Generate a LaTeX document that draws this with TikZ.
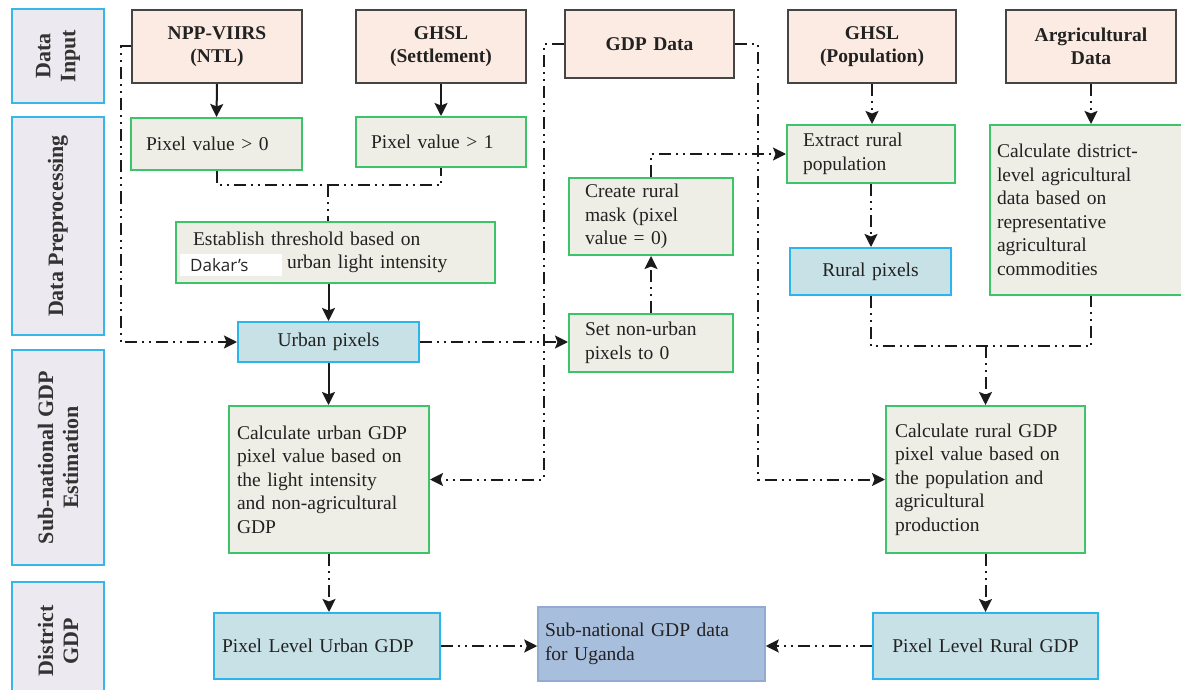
\documentclass[tikz,border=0pt]{standalone}
\usepackage{fontspec}
\setmainfont{Liberation Serif}
\newfontfamily\dakarfont{Open Sans}
\usetikzlibrary{arrows.meta}
\definecolor{lanefill}{HTML}{ECEAF0}
\definecolor{lanec}{HTML}{35B8E8}
\definecolor{lanetxt}{HTML}{333333}
\definecolor{infill}{HTML}{FCEBE2}
\definecolor{inbord}{HTML}{454545}
\definecolor{gfill}{HTML}{EEEEE6}
\definecolor{gbord}{HTML}{3CC46A}
\definecolor{bfill}{HTML}{C8E1E7}
\definecolor{bbord}{HTML}{2BB5EA}
\definecolor{sfill}{HTML}{A8BEDD}
\definecolor{sbord}{HTML}{93AAD2}
\definecolor{txt}{HTML}{222222}
\definecolor{linec}{HTML}{1A1A1A}
\newcommand\bx[8]{%
  \pgfmathsetmacro\bxcx{(#3+#5)/2}\pgfmathsetmacro\bxcy{(#4+#6)/2}%
  \pgfmathsetmacro\bxw{#5-#3}\pgfmathsetmacro\bxh{#6-#4}\pgfmathsetmacro\bxtw{#5-#3-2*#7}%
  \node[#1, inner xsep=#7pt, inner ysep=0pt, text width=\bxtw pt, minimum width=\bxw pt, minimum height=\bxh pt] (#2) at (\bxcx,\bxcy) {#8};}
\begin{document}
\begin{tikzpicture}[x=1pt,y=-1pt,
  lane/.style={draw=lanec, fill=lanefill, line width=2pt},
  lanetext/.style={rotate=90, align=center, font=\fontsize{22}{25}\selectfont\bfseries, text=lanetxt},
  inbox/.style={draw=inbord, fill=infill, line width=2.2pt, align=center, text=txt, font=\fontsize{19.5}{23.5}\selectfont\bfseries},
  gbox/.style={draw=gbord, fill=gfill, line width=2pt, align=left, text=txt, font=\fontsize{19.5}{23.5}\selectfont},
  bbox/.style={draw=bbord, fill=bfill, line width=2pt, align=center, text=txt, font=\fontsize{19.5}{23.5}\selectfont},
  sbox/.style={draw=sbord, fill=sfill, line width=1.5pt, align=left, text=txt, font=\fontsize{19.5}{23.5}\selectfont},
  con/.style={line width=2pt, draw=linec},
  dd/.style={con, dash pattern=on 12pt off 5pt on 2pt off 5pt on 2pt off 5pt},
  arr/.style={-{Stealth[length=13pt,width=13pt,inset=2.5pt]}}
]
\useasboundingbox (0,0) rectangle (1181,690);
% lanes
\bx{lane}{L1}{12}{9}{104}{103}{0}{}
\node[lanetext] (L1t) at (L1.center) {Data\\Input};
\bx{lane}{L2}{12}{117}{104}{335}{0}{}
\node[lanetext] (L2t) at (L2.center) {Data Preprocessing};
\bx{lane}{L3}{12}{350}{104}{565}{0}{}
\node[lanetext] (L3t) at (L3.center) {Sub-national GDP\\Estimation};
\bx{lane}{L4}{12}{582}{104}{700}{0}{}
\node[lanetext] (L4t) at (L4.center) {District\\GDP};
% inputs
\bx{inbox}{ntl}{132}{10}{302}{83}{4}{NPP-VIIRS\\(NTL)}
\bx{inbox}{ghs}{356}{10}{526}{83}{4}{GHSL\\(Settlement)}
\bx{inbox}{gdp}{565}{10}{734}{78}{4}{GDP Data}
\bx{inbox}{ghp}{788}{10}{956}{83}{4}{GHSL\\(Population)}
\bx{inbox}{agd}{1006}{10}{1176}{83}{4}{Argricultural\\Data}
% preprocessing
\bx{gbox}{p0}{131}{118}{302}{170}{15}{Pixel value > 0}
\bx{gbox}{p1}{356}{117}{526}{167}{15}{Pixel value > 1}
\bx{gbox}{est}{176}{222}{495}{283}{17}{Establish threshold based on\\\hspace*{94pt}urban light intensity}
\node[fill=white, inner xsep=10pt, inner ysep=0pt, text width=82pt, minimum height=22pt, align=left, anchor=west, text=black!85, font=\dakarfont\fontsize{17}{19}\selectfont] (dak) at (180,265) {Dakar’s};
\bx{gbox}{mask}{569}{178}{733}{255}{16}{Create rural\\mask (pixel\\value = 0)}
\bx{gbox}{ext}{787}{125}{955}{183}{16}{Extract rural\\population}
\bx{gbox}{agc}{990}{125}{1192}{295}{7}{Calculate district-\\level agricultural\\data based on\\representative\\agricultural\\commodities}
\bx{bbox}{rpx}{790}{248}{951}{295}{4}{Rural pixels}
\bx{bbox}{upx}{238}{322}{419}{362}{4}{Urban pixels}
\bx{gbox}{snu}{569}{314}{733}{372}{16}{Set non-urban\\pixels to 0}
% estimation
\bx{gbox}{cu}{229}{406}{429}{553}{8}{Calculate urban GDP\\pixel value based on\\the light intensity\\and non-agricultural\\GDP}
\bx{gbox}{cr}{886}{406}{1085}{553}{9}{Calculate rural GDP\\pixel value based on\\the population and\\agricultural\\production}
% district
\bx{bbox, align=left}{pu}{214}{613}{440}{679}{8}{Pixel Level Urban GDP}
\bx{sbox}{sn}{538}{607}{765}{681}{7}{Sub-national GDP data\\for Uganda}
\bx{bbox}{pr}{873}{613}{1098}{679}{4}{Pixel Level Rural GDP}
% connectors
\draw[con,arr] (ntl.south) -- (p0.north);
\draw[con,arr] (ghs.south) -- (p1.north);
\coordinate (j1) at (328,185);
\draw[dd] (p0.south) |- (j1) -| (p1.south);
\draw[dd] (j1) -- (j1 |- est.north);
\draw[con,arr] (upx.north |- est.south) -- (upx.north);
\draw[dd,arr] (ntl.west) -- ++(-10,0) |- (upx.west);
\draw[dd,arr] (upx.east) -- (upx.east -| snu.west);
\draw[dd,arr] (gdp.west) -- ++(-20,0) |- (cu.east);
\draw[dd,arr] (gdp.east) -- ++(23,0) |- (cr.west);
\draw[dd,arr] (snu.north) -- (mask.south);
\draw[dd,arr] (mask.north) |- (ext.west);
\draw[dd,arr] (ghp.south) -- (ghp.south |- ext.north);
\draw[dd,arr] (agd.south) -- (agd.south |- agc.north);
\draw[dd,arr] (ext.south) -- (ext.south |- rpx.north);
\path (cr.north) ++(0,-59) coordinate (j2);
\draw[dd] (rpx.south) |- (j2) -| (agc.south);
\draw[dd,arr] (j2) -- (cr.north);
\draw[con,arr] (upx.south) -- (upx.south |- cu.north);
\draw[dd,arr] (cu.south) -- (cu.south |- pu.north);
\draw[dd,arr] (cr.south) -- (cr.south |- pr.north);
\draw[dd,arr] (pu.east) -- (pu.east -| sn.west);
\draw[dd,arr] (pr.west) -- (pr.west -| sn.east);
\end{tikzpicture}
\end{document}
